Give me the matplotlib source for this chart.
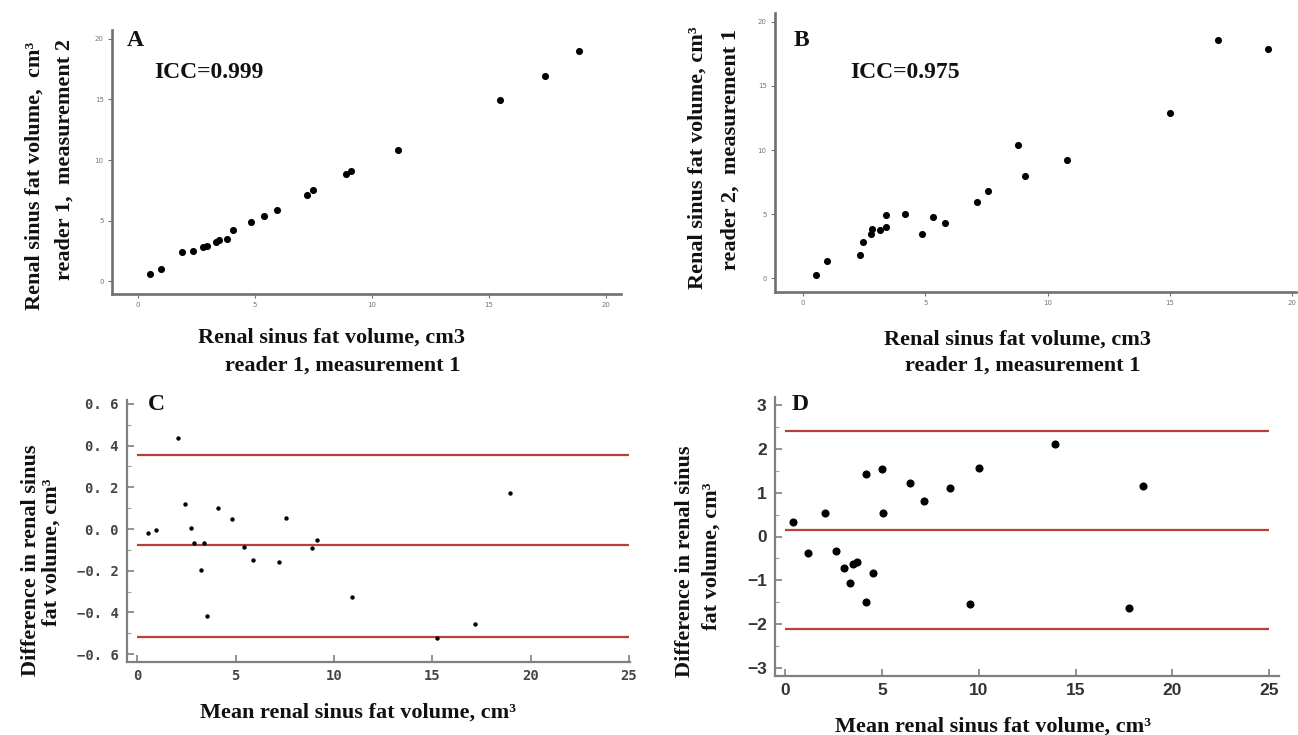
import matplotlib
matplotlib.use('Agg')
import matplotlib.pyplot as plt
from matplotlib.ticker import MultipleLocator
import numpy as np

# panel A: reader 1, measurement 1 vs measurement 2
a_x = [0.55, 1.0, 1.9, 2.36, 2.81, 2.96, 3.36, 3.48, 3.82, 4.08, 4.83, 5.41,
       5.95, 7.25, 7.5, 8.9, 9.13, 11.1, 15.49, 17.38, 18.83]
a_y = [0.61, 1.02, 2.37, 2.51, 2.81, 2.87, 3.2, 3.39, 3.45, 4.19, 4.91, 5.35,
       5.85, 7.12, 7.56, 8.83, 9.08, 10.81, 14.98, 16.94, 18.98]

# panel B: reader 1 vs reader 2
b_x = [0.54, 0.96, 2.32, 2.46, 2.77, 2.83, 3.15, 3.41, 3.39, 4.16, 4.86, 5.31,
       5.81, 7.1, 7.55, 8.79, 9.07, 10.8, 15.0, 16.96, 19.02]
b_y = [0.26, 1.36, 1.8, 2.82, 3.47, 3.86, 3.79, 3.99, 4.91, 5.01, 3.45, 4.8,
       4.26, 5.9, 6.76, 10.37, 7.99, 9.24, 12.92, 18.62, 17.91]

# panel C: Bland-Altman, intra-reader
c_mean = [0.53, 0.97, 2.08, 2.42, 2.73, 2.86, 3.24, 3.39, 3.56, 4.11, 4.83,
          5.4, 5.87, 7.2, 7.54, 8.86, 9.11, 10.93, 15.25, 17.18, 18.94]
c_diff = [-0.018, -0.005, 0.439, 0.12, 0.003, -0.066, -0.196, -0.067, -0.415,
          0.101, 0.046, -0.085, -0.149, -0.16, 0.054, -0.091, -0.054, -0.327,
          -0.524, -0.457, 0.175]
c_loa = [0.357, -0.079, -0.518]

# panel D: Bland-Altman, inter-reader
d_mean = [0.39, 1.16, 2.07, 2.65, 3.06, 3.36, 3.51, 3.71, 4.16, 4.16, 4.55,
          5.02, 5.06, 6.47, 7.16, 8.53, 9.57, 10.02, 13.94, 17.78, 18.47]
d_diff = [0.32, -0.38, 0.53, -0.33, -0.71, -1.06, -0.62, -0.59, 1.42, -1.49,
          -0.83, 1.54, 0.53, 1.21, 0.81, 1.10, -1.53, 1.56, 2.10, -1.63, 1.15]
d_loa = [2.41, 0.145, -2.11]

W, H = 1298, 735
serif = 'Liberation Serif'
red = '#b5403f'

fig = plt.figure(figsize=(W / 100, H / 100), dpi=100)


def px(x, y):
    return x / W, 1 - y / H


def add_ax(left, top, right, bottom):
    ax = fig.add_axes([left / W, 1 - bottom / H, (right - left) / W, (bottom - top) / H])
    ax.spines['top'].set_visible(False)
    ax.spines['right'].set_visible(False)
    return ax


def label(x, y, s, size=16, rot=0, ha='center'):
    fig.text(*px(x, y), s, fontsize=size, fontweight='bold', family=serif,
             rotation=rot, ha=ha, va='center', color='#111111')


def scatter_panel(ax, x, y, xlim, ylim):
    ax.scatter(x, y, s=26, color='black', marker='o', linewidths=0)
    ax.set_xlim(*xlim)
    ax.set_ylim(*ylim)
    ax.set_xticks([0, 5, 10, 15, 20])
    ax.set_yticks([0, 5, 10, 15, 20])
    for sp in ['left', 'bottom']:
        ax.spines[sp].set_color('#707070')
        ax.spines[sp].set_linewidth(1.9)
    ax.tick_params(direction='out', length=3, width=0.8, color='#707070',
                   labelsize=5, labelcolor='#777777', pad=3)


def ba_panel(ax, x, y, loa, xlim, ylim, yticks, minor, s):
    for v in loa:
        ax.hlines(v, 0, 25, color=red, linewidth=1.6, zorder=1)
    ax.scatter(x, y, s=s, color='black', marker='o', linewidths=0, zorder=2)
    ax.set_xlim(*xlim)
    ax.set_ylim(*ylim)
    ax.set_xticks([0, 5, 10, 15, 20, 25])
    ax.set_yticks(yticks)
    ax.yaxis.set_minor_locator(MultipleLocator(minor))
    for sp in ['left', 'bottom']:
        ax.spines[sp].set_color('#808080')
        ax.spines[sp].set_linewidth(1.6)
    ax.tick_params(which='major', direction='in', length=5, width=1.2, color='#808080')
    ax.tick_params(which='minor', direction='in', length=3, width=0.8, color='#a0a0a0')


# A
axA = add_ax(112, 30, 621, 294)
scatter_panel(axA, a_x, a_y, (-1.09, 20.64), (-1.07, 20.74))
label(127, 41, 'A', 17, ha='left')
label(154, 73, 'ICC=0.999', 17, ha='left')
label(35, 176, 'Renal sinus fat volume,  cm\u00b3', rot=90)
label(65, 160, 'reader 1,  measurement 2', rot=90)
label(331, 338, 'Renal sinus fat volume, cm3')
label(343, 366, 'reader 1, measurement 1')

# B
axB = add_ax(775, 13, 1296, 292)
scatter_panel(axB, b_x, b_y, (-1.15, 20.16), (-1.09, 20.7))
label(794, 40, 'B', 17, ha='left')
label(850, 73, 'ICC=0.975', 17, ha='left')
label(698, 158, 'Renal sinus fat volume, cm\u00b3', rot=90)
label(731, 149, 'reader 2,  measurement 1', rot=90)
label(1017, 340, 'Renal sinus fat volume, cm3')
label(1023, 366, 'reader 1, measurement 1')

# C
axC = add_ax(127, 400, 630, 662)
c_ticks = [0.6, 0.4, 0.2, 0.0, -0.2, -0.4, -0.6]
ba_panel(axC, c_mean, c_diff, c_loa, (-0.53, 25.05), (-0.638, 0.619), c_ticks, 0.1, 10)
axC.set_yticklabels([('%.1f' % v).replace('.', '. ').replace('-', '\u2212') for v in c_ticks])
for t in axC.get_yticklabels() + axC.get_xticklabels():
    t.set_family('DejaVu Sans Mono')
    t.set_fontweight('bold')
    t.set_fontsize(10)
    t.set_color('#444444')
axC.tick_params(axis='y', pad=6)
axC.tick_params(axis='x', pad=5)
label(148, 404, 'C', 17, ha='left')
label(31, 560, 'Difference in renal sinus', rot=90)
label(52, 552, 'fat volume, cm\u00b3', rot=90)
label(358, 713, 'Mean renal sinus fat volume, cm\u00b3')

# D
axD = add_ax(775, 397, 1279, 676)
d_ticks = [3, 2, 1, 0, -1, -2, -3]
ba_panel(axD, d_mean, d_diff, d_loa, (-0.52, 25.5), (-3.18, 3.18), d_ticks, 0.5, 34)
for t in axD.get_yticklabels() + axD.get_xticklabels():
    t.set_family('Liberation Sans')
    t.set_fontweight('bold')
    t.set_fontsize(12.5)
    t.set_color('#333333')
axD.tick_params(axis='y', pad=6)
axD.tick_params(axis='x', pad=5)
label(792, 405, 'D', 17, ha='left')
label(685, 561, 'Difference in renal sinus', rot=90)
label(712, 556, 'fat volume, cm\u00b3', rot=90)
label(993, 727, 'Mean renal sinus fat volume, cm\u00b3')

fig.savefig('out.png', dpi=100)
